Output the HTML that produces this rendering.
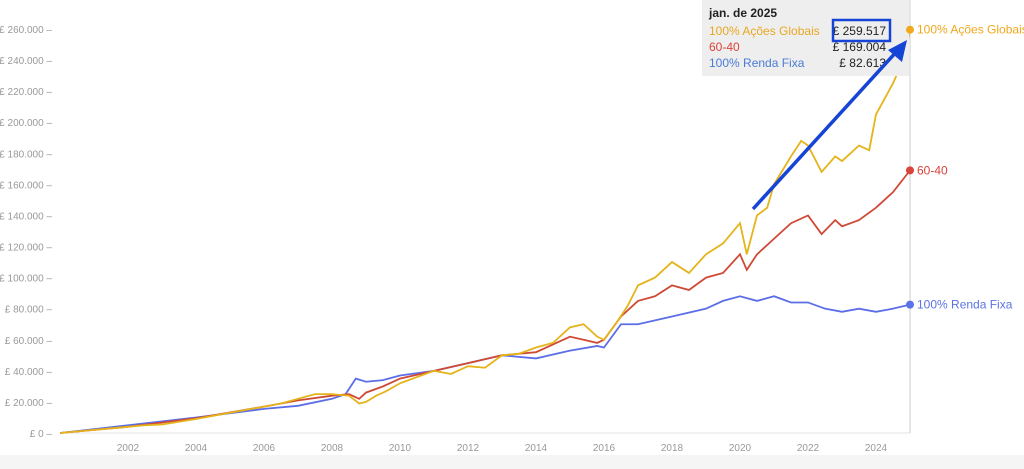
<!DOCTYPE html>
<html><head><meta charset="utf-8"><style>
body{margin:0;width:1024px;height:469px;background:#fff;font-family:"Liberation Sans",sans-serif;overflow:hidden;position:relative}
svg{position:absolute;left:0;top:0}
</style></head><body>
<svg width="1024" height="469">
<rect x="0" y="455" width="1024" height="14" fill="#f5f5f5"/>
<g id="axes"></g><g id="lines"></g>
<line x1="910" y1="0" x2="910" y2="433" stroke="#ccc" stroke-width="1"/>
<g>
<rect x="702" y="0" width="207" height="76" fill="#eeeeee"/>
<text x="709" y="17" font-size="12" fill="#222" font-weight="bold">jan. de 2025</text>
<text x="709" y="35" font-size="12" fill="#e8a822">100% Ações Globais</text>
<text x="886" y="35" font-size="12" fill="#222" text-anchor="end">£ 259.517</text>
<text x="709" y="51" font-size="12" fill="#d9443b">60-40</text>
<text x="886" y="51" font-size="12" fill="#222" text-anchor="end">£ 169.004</text>
<text x="709" y="67" font-size="12" fill="#4a7bd6">100% Renda Fixa</text>
<text x="886" y="67" font-size="12" fill="#222" text-anchor="end">£ 82.613</text>
<rect x="833" y="20" width="57" height="21" fill="none" stroke="#1544d6" stroke-width="2.5"/>
</g>
<g>
<line x1="753" y1="209" x2="898" y2="50" stroke="#1544d6" stroke-width="3.5"/>
<polygon points="907,40 888,50 902,62" fill="#1544d6"/>
</g>
<g id="ends"></g>
</svg>
<script>
const yTicks=[0,20000,40000,60000,80000,100000,120000,140000,160000,180000,200000,220000,240000,260000];
const xTicks=[2002,2004,2006,2008,2010,2012,2014,2016,2018,2020,2022,2024];
const eqDates=[2000,2001,2002,2002.5,2003,2004,2005,2006,2006.5,2007,2007.5,2008,2008.5,2008.8,2009,2009.3,2009.6,2010,2010.5,2011,2011.5,2012,2012.5,2013,2013.5,2014,2014.5,2015,2015.4,2015.8,2016,2016.4,2016.7,2017,2017.5,2018,2018.5,2019,2019.5,2020,2020.2,2020.5,2020.8,2021,2021.5,2021.8,2022,2022.4,2022.8,2023,2023.5,2023.8,2024,2024.5,2024.8,2025];
const eqVals=[0,2000,4000,5000,5500,9000,13000,17000,19000,22000,25000,25000,24000,19000,20000,24000,27000,32000,36000,40000,38000,43000,42000,50000,51000,55000,58000,68000,70000,62000,60000,72000,82000,95000,100000,110000,103000,115000,122000,135000,115000,140000,145000,160000,178000,188000,185000,168000,178000,175000,185000,182000,205000,225000,240000,259517];
const mixDates=[2000,2002,2004,2006,2007,2008,2008.5,2008.8,2009,2009.5,2010,2011,2012,2013,2014,2015,2015.8,2016,2016.5,2017,2017.5,2018,2018.5,2019,2019.5,2020,2020.2,2020.5,2021,2021.5,2022,2022.4,2022.8,2023,2023.5,2024,2024.5,2025];
const mixVals=[0,4000,9500,17000,21000,24000,25000,22000,26000,30000,35000,40000,45000,50000,52000,62000,58000,60000,75000,85000,88000,95000,92000,100000,103000,115000,105000,115000,125000,135000,140000,128000,137000,133000,137000,145000,155000,169004];
const bondDates=[2000,2002,2004,2006,2007,2008,2008.4,2008.7,2009,2009.5,2010,2011,2012,2013,2014,2015,2015.8,2016,2016.5,2017,2018,2019,2019.5,2020,2020.5,2021,2021.5,2022,2022.5,2023,2023.5,2024,2024.5,2025];
const bondVals=[0,5000,10000,15500,17500,22000,25000,35000,33000,34000,37000,40000,45000,50000,48000,53000,56000,55000,70000,70000,75000,80000,85000,88000,85000,88000,84000,84000,80000,78000,80000,78000,80000,82613];
const X=d=>60+(d-2000)*34, Y=v=>433-v/20000*31.08;
const ns="http://www.w3.org/2000/svg";
function mk(t,a,p){const e=document.createElementNS(ns,t);for(const k in a)e.setAttribute(k,a[k]);p.appendChild(e);return e;}
const ax=document.getElementById('axes');
mk('line',{x1:60,y1:433,x2:910,y2:433,stroke:'#e3e3e3'},ax);
yTicks.forEach(v=>{const t=mk('text',{x:52,y:Y(v)+4,'font-size':10,fill:'#999','text-anchor':'end'},ax);


t.textContent='£ '+v.toLocaleString('de-DE')+' –';});
xTicks.forEach(d=>{const t=mk('text',{x:X(d),y:451,'font-size':10,fill:'#999','text-anchor':'middle'},ax);


t.textContent=d;});
const L=document.getElementById('lines');
const series=[[bondDates,bondVals,'#5b6ee8','bond-line'],[mixDates,mixVals,'#cf4a36','sixty-forty-line'],[eqDates,eqVals,'#e4b41a','equity-line']];
series.forEach(s=>{const p=mk('polyline',{points:s[0].map((d,i)=>X(d)+','+Y(s[1][i])).join(' '),fill:'none',stroke:s[2],'stroke-width':1.8},L);

});
const E=document.getElementById('ends');
const labs=[[eqVals,'#f0a81c','100% Ações Globais'],[mixVals,'#d9443b','60-40'],[bondVals,'#5b73e8','100% Renda Fixa']];
labs.forEach(l=>{const v=l[0][l[0].length-1];
const c=mk('circle',{cx:910,cy:Y(v),r:4,fill:l[1]},E);


const t=mk('text',{x:917,y:Y(v)+4,'font-size':12,fill:l[1]},E);


t.textContent=l[2];});
</script>
</body></html>
